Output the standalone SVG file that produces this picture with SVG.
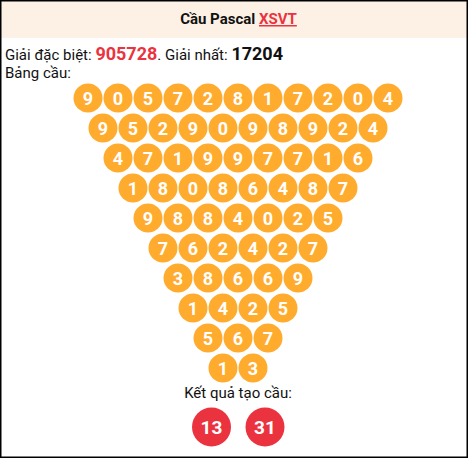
<svg xmlns="http://www.w3.org/2000/svg" width="470" height="459" viewBox="0 0 470 459">
<style>
.t{font-family:Roboto,"Liberation Sans",sans-serif;font-size:15px;fill:#111}
.c circle{fill:#ffab2e}
.c text{font-family:Roboto,"Liberation Sans",sans-serif;font-size:18px;font-weight:bold;fill:#fff;text-anchor:middle}
.r circle{fill:#eb3340}
.r text{font-family:Roboto,"Liberation Sans",sans-serif;font-size:19px;font-weight:bold;fill:#fff;text-anchor:middle}
</style>
<rect x="0" y="0" width="470" height="459" fill="#fff"/>
<rect x="1" y="1" width="466" height="37" fill="#fdf1e5"/>
<rect x="0.75" y="0.75" width="466.5" height="456.5" fill="none" stroke="#000" stroke-width="1.5"/>
<g id="title"><text x="238.5" y="24" text-anchor="middle" style="font-family:Roboto,'Liberation Sans',sans-serif;font-size:15px;font-weight:bold;fill:#111">Cầu Pascal <tspan fill="#eb3340" text-decoration="underline">XSVT</tspan></text></g>
<g id="info">
<text class="t" x="5" y="60">Giải đặc biệt: <tspan style="font-weight:bold;font-size:18px;fill:#eb3340">905728</tspan>. Giải nhất: <tspan style="font-weight:bold;font-size:18px;fill:#111">17204</tspan></text>
<text class="t" x="5" y="78">Bảng cầu:</text>
</g>
<g id="row1" class="c">
<circle cx="88" cy="98" r="14.5"/><text x="88" y="104.5">9</text>
<circle cx="118" cy="98" r="14.5"/><text x="118" y="104.5">0</text>
<circle cx="148" cy="98" r="14.5"/><text x="148" y="104.5">5</text>
<circle cx="178" cy="98" r="14.5"/><text x="178" y="104.5">7</text>
<circle cx="208" cy="98" r="14.5"/><text x="208" y="104.5">2</text>
<circle cx="238" cy="98" r="14.5"/><text x="238" y="104.5">8</text>
<circle cx="268" cy="98" r="14.5"/><text x="268" y="104.5">1</text>
<circle cx="298" cy="98" r="14.5"/><text x="298" y="104.5">7</text>
<circle cx="328" cy="98" r="14.5"/><text x="328" y="104.5">2</text>
<circle cx="358" cy="98" r="14.5"/><text x="358" y="104.5">0</text>
<circle cx="388" cy="98" r="14.5"/><text x="388" y="104.5">4</text>
</g>
<g id="row2" class="c">
<circle cx="103" cy="128" r="14.5"/><text x="103" y="134.5">9</text>
<circle cx="133" cy="128" r="14.5"/><text x="133" y="134.5">5</text>
<circle cx="163" cy="128" r="14.5"/><text x="163" y="134.5">2</text>
<circle cx="193" cy="128" r="14.5"/><text x="193" y="134.5">9</text>
<circle cx="223" cy="128" r="14.5"/><text x="223" y="134.5">0</text>
<circle cx="253" cy="128" r="14.5"/><text x="253" y="134.5">9</text>
<circle cx="283" cy="128" r="14.5"/><text x="283" y="134.5">8</text>
<circle cx="313" cy="128" r="14.5"/><text x="313" y="134.5">9</text>
<circle cx="343" cy="128" r="14.5"/><text x="343" y="134.5">2</text>
<circle cx="373" cy="128" r="14.5"/><text x="373" y="134.5">4</text>
</g>
<g id="row3" class="c">
<circle cx="118" cy="158" r="14.5"/><text x="118" y="164.5">4</text>
<circle cx="148" cy="158" r="14.5"/><text x="148" y="164.5">7</text>
<circle cx="178" cy="158" r="14.5"/><text x="178" y="164.5">1</text>
<circle cx="208" cy="158" r="14.5"/><text x="208" y="164.5">9</text>
<circle cx="238" cy="158" r="14.5"/><text x="238" y="164.5">9</text>
<circle cx="268" cy="158" r="14.5"/><text x="268" y="164.5">7</text>
<circle cx="298" cy="158" r="14.5"/><text x="298" y="164.5">7</text>
<circle cx="328" cy="158" r="14.5"/><text x="328" y="164.5">1</text>
<circle cx="358" cy="158" r="14.5"/><text x="358" y="164.5">6</text>
</g>
<g id="row4" class="c">
<circle cx="133" cy="188" r="14.5"/><text x="133" y="194.5">1</text>
<circle cx="163" cy="188" r="14.5"/><text x="163" y="194.5">8</text>
<circle cx="193" cy="188" r="14.5"/><text x="193" y="194.5">0</text>
<circle cx="223" cy="188" r="14.5"/><text x="223" y="194.5">8</text>
<circle cx="253" cy="188" r="14.5"/><text x="253" y="194.5">6</text>
<circle cx="283" cy="188" r="14.5"/><text x="283" y="194.5">4</text>
<circle cx="313" cy="188" r="14.5"/><text x="313" y="194.5">8</text>
<circle cx="343" cy="188" r="14.5"/><text x="343" y="194.5">7</text>
</g>
<g id="row5" class="c">
<circle cx="148" cy="218" r="14.5"/><text x="148" y="224.5">9</text>
<circle cx="178" cy="218" r="14.5"/><text x="178" y="224.5">8</text>
<circle cx="208" cy="218" r="14.5"/><text x="208" y="224.5">8</text>
<circle cx="238" cy="218" r="14.5"/><text x="238" y="224.5">4</text>
<circle cx="268" cy="218" r="14.5"/><text x="268" y="224.5">0</text>
<circle cx="298" cy="218" r="14.5"/><text x="298" y="224.5">2</text>
<circle cx="328" cy="218" r="14.5"/><text x="328" y="224.5">5</text>
</g>
<g id="row6" class="c">
<circle cx="163" cy="248" r="14.5"/><text x="163" y="254.5">7</text>
<circle cx="193" cy="248" r="14.5"/><text x="193" y="254.5">6</text>
<circle cx="223" cy="248" r="14.5"/><text x="223" y="254.5">2</text>
<circle cx="253" cy="248" r="14.5"/><text x="253" y="254.5">4</text>
<circle cx="283" cy="248" r="14.5"/><text x="283" y="254.5">2</text>
<circle cx="313" cy="248" r="14.5"/><text x="313" y="254.5">7</text>
</g>
<g id="row7" class="c">
<circle cx="178" cy="278" r="14.5"/><text x="178" y="284.5">3</text>
<circle cx="208" cy="278" r="14.5"/><text x="208" y="284.5">8</text>
<circle cx="238" cy="278" r="14.5"/><text x="238" y="284.5">6</text>
<circle cx="268" cy="278" r="14.5"/><text x="268" y="284.5">6</text>
<circle cx="298" cy="278" r="14.5"/><text x="298" y="284.5">9</text>
</g>
<g id="row8" class="c">
<circle cx="193" cy="308" r="14.5"/><text x="193" y="314.5">1</text>
<circle cx="223" cy="308" r="14.5"/><text x="223" y="314.5">4</text>
<circle cx="253" cy="308" r="14.5"/><text x="253" y="314.5">2</text>
<circle cx="283" cy="308" r="14.5"/><text x="283" y="314.5">5</text>
</g>
<g id="row9" class="c">
<circle cx="208" cy="338" r="14.5"/><text x="208" y="344.5">5</text>
<circle cx="238" cy="338" r="14.5"/><text x="238" y="344.5">6</text>
<circle cx="268" cy="338" r="14.5"/><text x="268" y="344.5">7</text>
</g>
<g id="row10" class="c">
<circle cx="223" cy="368" r="14.5"/><text x="223" y="374.5">1</text>
<circle cx="253" cy="368" r="14.5"/><text x="253" y="374.5">3</text>
</g>
<g id="result">
<text class="t" x="238" y="398" text-anchor="middle">Kết quả tạo cầu:</text>
</g>
<g id="res1" class="r"><circle cx="211.5" cy="427" r="19.5"/><text x="211.5" y="434">13</text></g>
<g id="res2" class="r"><circle cx="265" cy="427" r="19.5"/><text x="265" y="434">31</text></g>
<g id="connectors"></g>
</svg>
